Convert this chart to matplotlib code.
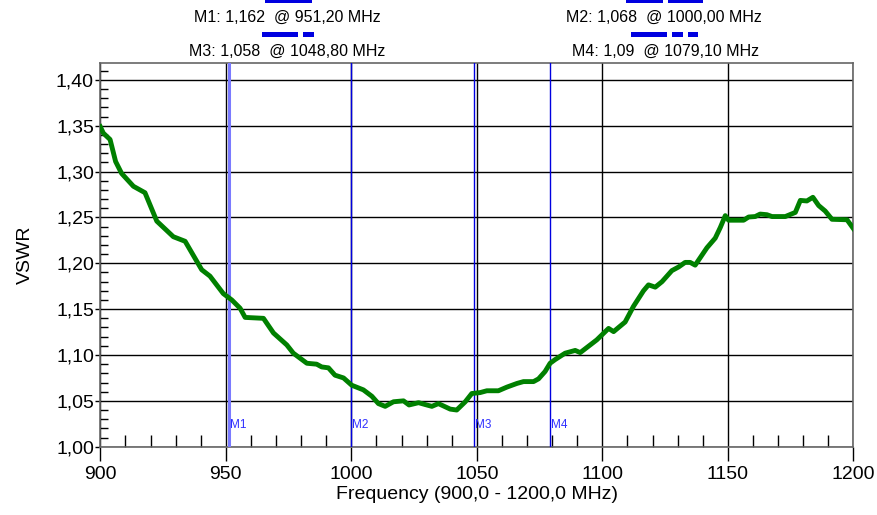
#!/usr/bin/env python3
"""
VSWR sweep 900-1200 MHz with four markers (M1..M4).
"""

import matplotlib
matplotlib.use("Agg")
import matplotlib.pyplot as plt
from matplotlib.patches import Rectangle
from matplotlib.ticker import MultipleLocator, FuncFormatter

# =============================================================================
# Data
# =============================================================================

FREQ_MHZ = [
    900.0, 901.2, 903.9, 906.1, 908.5, 913.2, 917.8, 922.5, 929.1, 933.8,
    940.4, 943.7, 949.0, 952.4, 955.7, 957.7, 965.0, 969.0, 974.3, 976.9,
    982.3, 986.2, 988.2, 990.9, 993.5, 996.9, 1000.2, 1004.8, 1008.2, 1010.8,
    1013.5, 1016.8, 1020.8, 1023.0, 1026.8, 1029.4, 1032.1, 1034.7, 1039.4, 1042.0,
    1045.4, 1048.0, 1051.3, 1054.0, 1058.6, 1062.0, 1066.0, 1068.6, 1072.6, 1074.6,
    1077.2, 1079.2, 1081.2, 1085.2, 1089.2, 1091.2, 1097.8, 1102.5, 1104.5, 1109.1,
    1112.4, 1116.4, 1118.4, 1121.1, 1123.8, 1127.7, 1130.4, 1133.0, 1135.0, 1137.0,
    1141.7, 1145.0, 1147.0, 1149.0, 1150.3, 1156.3, 1158.3, 1160.9, 1162.9, 1165.6,
    1167.6, 1172.9, 1176.9, 1178.9, 1181.5, 1183.9, 1186.2, 1188.8, 1191.5, 1197.5,
    1200.0,
]
VSWR = [
    1.349, 1.342, 1.335, 1.311, 1.298, 1.284, 1.277, 1.246, 1.229, 1.224,
    1.193, 1.186, 1.167, 1.160, 1.151, 1.141, 1.140, 1.124, 1.111, 1.102,
    1.091, 1.090, 1.087, 1.086, 1.078, 1.075, 1.067, 1.062, 1.055, 1.047,
    1.044, 1.049, 1.050, 1.0455, 1.048, 1.046, 1.044, 1.047, 1.041, 1.040,
    1.049, 1.058, 1.059, 1.061, 1.061, 1.065, 1.069, 1.071, 1.071, 1.074,
    1.082, 1.091, 1.095, 1.102, 1.105, 1.1026, 1.1165, 1.129, 1.1255, 1.136,
    1.153, 1.170, 1.1765, 1.174, 1.180, 1.192, 1.196, 1.201, 1.201, 1.198,
    1.217, 1.2275, 1.239, 1.252, 1.247, 1.247, 1.2505, 1.251, 1.2537, 1.253,
    1.251, 1.251, 1.2555, 1.2686, 1.268, 1.272, 1.263, 1.257, 1.248, 1.2475,
    1.238,
]

MARKER_NAMES = ["M1", "M2", "M3", "M4"]
MARKER_FREQ = [951.2, 1000.0, 1048.8, 1079.1]
MARKER_TEXT = [
    "M1: 1,162  @ 951,20 MHz",
    "M2: 1,068  @ 1000,00 MHz",
    "M3: 1,058  @ 1048,80 MHz",
    "M4: 1,09  @ 1079,10 MHz",
]

# =============================================================================
# Style
# =============================================================================

W, H = 877, 515
DPI = 100
plt.rcParams['font.family'] = ['Liberation Sans', 'DejaVu Sans']
FONT_TICK = 14
FONT_ANNOT = 11.5
FONT_MARK = 8.5

COLOR_TRACE = "#008000"
COLOR_MARK = "#0000e0"
COLOR_MARK_SEL = "#7a7aff"
COLOR_FRAME = "#666666"


def px(x, y):
    """pixel position (origin top-left) -> figure fraction"""
    return x / W, 1 - y / H


fig = plt.figure(figsize=(W / DPI, H / DPI), dpi=DPI)
L, R, T, B = 100.3, 853.3, 62.5, 446.7
ax = fig.add_axes([L / W, 1 - B / H, (R - L) / W, (B - T) / H])

# trace
ax.plot(FREQ_MHZ, VSWR, color=COLOR_TRACE, lw=3.5, zorder=4,
        solid_joinstyle='round')

# marker lines + small labels
for i, (name, f) in enumerate(zip(MARKER_NAMES, MARKER_FREQ)):
    if i == 0:
        ax.axvline(f, color=COLOR_MARK_SEL, lw=2.2, zorder=3)
    else:
        ax.axvline(f, color=COLOR_MARK, lw=1.0, zorder=3)
    ax.text(f + 0.4, 1.0237, name, color="#3030ff", fontsize=FONT_MARK,
            va='center', ha='left', zorder=5)

ax.set_xlim(900, 1200)
ax.set_ylim(1.0, 1.419)
ax.xaxis.set_major_locator(MultipleLocator(50))
ax.xaxis.set_minor_locator(MultipleLocator(10))
ax.yaxis.set_major_locator(MultipleLocator(0.05))
ax.yaxis.set_minor_locator(MultipleLocator(0.01))
ax.yaxis.set_major_formatter(FuncFormatter(lambda v, _: f"{v:.2f}".replace(".", ",")))

ax.grid(True, which='major', color='black', lw=1.0, zorder=1)
ax.set_axisbelow(True)
ax.tick_params(axis='x', which='major', direction='out', length=10, width=1.0,
               color='black', labelsize=FONT_TICK, pad=4)
ax.tick_params(axis='x', which='minor', direction='in', length=8.5, width=1.0,
               color='black')
ax.tick_params(axis='y', which='major', direction='out', length=3.6, width=1.0,
               color='black', labelsize=FONT_TICK, pad=1)
ax.tick_params(axis='y', which='minor', direction='in', length=5.8, width=1.0,
               color='black')
for spine in ax.spines.values():
    spine.set_color(COLOR_FRAME)
    spine.set_linewidth(1.2)

ax.set_xlabel("Frequency (900,0 - 1200,0 MHz)", fontsize=FONT_TICK, labelpad=2)
ax.set_ylabel("VSWR", fontsize=FONT_TICK, labelpad=16)

# marker read-outs above the plot
TEXT_POS = [(287.5, 17), (664, 17), (287.5, 51), (665, 51)]
for txt, (x, y) in zip(MARKER_TEXT, TEXT_POS):
    fig.text(*px(x, y), txt, fontsize=FONT_ANNOT, ha='center', va='center')

# line-style swatches above each read-out
SWATCHES = [
    (0, -2, [(265, 312)]),
    (1, -2, [(626, 663), (668, 703)]),
    (2, 32, [(262, 298), (303, 314)]),
    (3, 32, [(631, 667), (672, 683), (688, 698)]),
]
for _, y0, segs in SWATCHES:
    for x0, x1 in segs:
        fx, fy = px(x0, y0 + 5)
        fig.add_artist(Rectangle((fx, fy), (x1 - x0) / W, 5 / H,
                                 transform=fig.transFigure, color=COLOR_MARK,
                                 lw=0))

fig.savefig("out.png", dpi=DPI)
